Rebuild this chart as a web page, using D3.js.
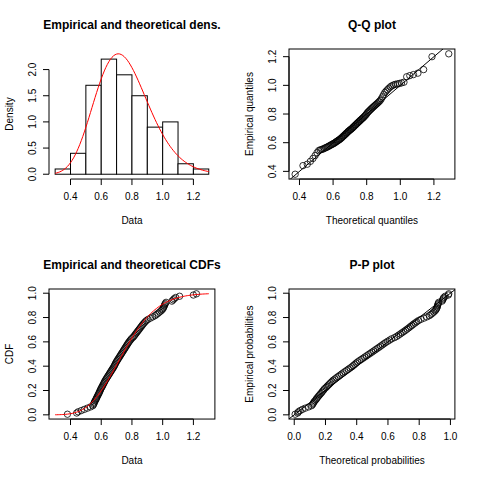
<!DOCTYPE html>
<html>
<head>
<meta charset="utf-8">
<script src="https://cdn.jsdelivr.net/npm/d3@7"></script>
<style>
html,body{margin:0;padding:0;background:#fff;}
svg{display:block;}
text{font-family:"Liberation Sans",Arial,Helvetica,sans-serif;fill:#000;}
</style>
</head>
<body>
<svg id="chart" width="480" height="480"></svg>
<script>
// ---------- data ----------
// sorted sample (n = 100)
const sample = [
  0.38,
  0.44, 0.45, 0.47, 0.49,
  0.51, 0.53, 0.545, 0.55, 0.553, 0.556, 0.56, 0.565, 0.568, 0.572, 0.576, 0.58, 0.584, 0.588, 0.591, 0.595, 0.598,
  0.603, 0.607, 0.611, 0.615, 0.619, 0.623, 0.627, 0.632, 0.637, 0.642, 0.647, 0.652, 0.657, 0.662, 0.667, 0.672, 0.677, 0.682, 0.686, 0.690, 0.694, 0.698,
  0.703, 0.708, 0.713, 0.718, 0.723, 0.728, 0.733, 0.738, 0.743, 0.748, 0.753, 0.758, 0.763, 0.768, 0.773, 0.778, 0.784, 0.790, 0.796,
  0.805, 0.812, 0.818, 0.824, 0.830, 0.836, 0.842, 0.848, 0.854, 0.860, 0.866, 0.872, 0.879, 0.886, 0.894,
  0.905, 0.92, 0.935, 0.95, 0.96, 0.97, 0.98, 0.99, 0.997,
  1.003, 1.007, 1.01, 1.013, 1.017, 1.022, 1.06, 1.068, 1.075, 1.085,
  1.11, 1.20,
  1.22
];
// histogram
const histBreaks = [0.3, 0.4, 0.5, 0.6, 0.7, 0.8, 0.9, 1.0, 1.1, 1.2, 1.3];
const histDensity = [0.1, 0.4, 1.7, 2.2, 1.9, 1.5, 0.9, 1.0, 0.2, 0.1];
// fitted gamma distribution
const gammaShape = 18.0;
const gammaRate = 23.9;
// tick labels
const ticksData = [0.4, 0.6, 0.8, 1.0, 1.2];
const ticksDensity = [0.0, 0.5, 1.0, 1.5, 2.0];
const ticksQuant = [0.4, 0.6, 0.8, 1.0, 1.2];
const ticksProb = [0.0, 0.2, 0.4, 0.6, 0.8, 1.0];
const titles = ["Empirical and theoretical dens.", "Q-Q plot", "Empirical and theoretical CDFs", "P-P plot"];
const xLabels = ["Data", "Theoretical quantiles", "Data", "Theoretical probabilities"];
const yLabels = ["Density", "Empirical quantiles", "CDF", "Empirical probabilities"];

// ---------- gamma distribution functions ----------
function lgamma(z){
  const g = 7, c = [0.99999999999980993, 676.5203681218851, -1259.1392167224028,
    771.32342877765313, -176.61502916214059, 12.507343278686905,
    -0.13857109526572012, 9.9843695780195716e-6, 1.5056327351493116e-7];
  z -= 1;
  let x = c[0];
  for (let i = 1; i < g + 2; i++) x += c[i] / (z + i);
  const t = z + g + 0.5;
  return 0.5*Math.log(2*Math.PI) + (z+0.5)*Math.log(t) - t + Math.log(x);
}
function dgamma(x){
  if (x <= 0) return 0;
  return Math.exp((gammaShape-1)*Math.log(x) - gammaRate*x + gammaShape*Math.log(gammaRate) - lgamma(gammaShape));
}
function pgamma(x){
  if (x <= 0) return 0;
  const a = gammaShape, y = gammaRate*x;
  const lnPre = -y + a*Math.log(y) - lgamma(a);
  if (y < a + 1){
    let ap = a, sum = 1/a, del = sum;
    for (let n = 0; n < 500; n++){ ap += 1; del *= y/ap; sum += del; if (Math.abs(del) < Math.abs(sum)*1e-14) break; }
    return sum*Math.exp(lnPre);
  } else {
    let b = y + 1 - a, c = 1e300, d = 1/b, h = d;
    for (let i = 1; i < 500; i++){
      const an = -i*(i - a); b += 2;
      d = an*d + b; if (Math.abs(d) < 1e-300) d = 1e-300;
      c = b + an/c; if (Math.abs(c) < 1e-300) c = 1e-300;
      d = 1/d; const del = d*c; h *= del;
      if (Math.abs(del - 1) < 1e-14) break;
    }
    return 1 - Math.exp(lnPre)*h;
  }
}
function qgamma(p){
  let lo = 0, hi = 5;
  for (let i = 0; i < 100; i++){ const m = (lo+hi)/2; if (pgamma(m) < p) lo = m; else hi = m; }
  return (lo+hi)/2;
}

// ---------- derived quantities ----------
const n = sample.length;
const ppts = sample.map((d,i) => (i + 1 - 0.5)/n);
const qtheo = ppts.map(p => qgamma(p));
const ptheo = sample.map(s => pgamma(s));
const curveX = d3.range(0, 101).map(i => 0.3 + i*0.01);

// ---------- layout (R-like) ----------
const svg = d3.select("#chart");
const L = 11.952;
const P = {left: 4.1*L, right: 240 - 2.1*L, top: 4.1*L, bottom: 240 - 5.1*L};
function ext(lo, hi){ const r = hi - lo; return [lo - 0.04*r, hi + 0.04*r]; }
const fmt = d3.format(".1f");

function panel(ox, oy, xdom, ydom, xt, yt, idx, boxed){
  const g = svg.append("g").attr("transform", `translate(${ox},${oy})`);
  const x = d3.scaleLinear().domain(xdom).range([P.left, P.right]);
  const y = d3.scaleLinear().domain(ydom).range([P.bottom, P.top]);
  // title
  g.append("text").attr("x", (P.left+P.right)/2).attr("y", 28.5)
    .attr("text-anchor","middle").attr("font-size","12px").attr("font-weight","bold")
    .text(titles[idx]);
  // x axis
  g.append("line").attr("x1", x(xt[0])).attr("x2", x(xt[xt.length-1]))
    .attr("y1", P.bottom).attr("y2", P.bottom).attr("stroke","#000").attr("stroke-width",1);
  xt.forEach(t => {
    g.append("line").attr("x1", x(t)).attr("x2", x(t)).attr("y1", P.bottom).attr("y2", P.bottom+6)
      .attr("stroke","#000").attr("stroke-width",1);
    g.append("text").attr("x", x(t)).attr("y", P.bottom+21).attr("text-anchor","middle")
      .attr("font-size","10px").text(fmt(t));
  });
  g.append("text").attr("x", (P.left+P.right)/2).attr("y", P.bottom+45).attr("text-anchor","middle")
    .attr("font-size","10px").text(xLabels[idx]);
  // y axis
  g.append("line").attr("x1", P.left).attr("x2", P.left)
    .attr("y1", y(yt[0])).attr("y2", y(yt[yt.length-1])).attr("stroke","#000").attr("stroke-width",1);
  yt.forEach(t => {
    g.append("line").attr("x1", P.left-6).attr("x2", P.left).attr("y1", y(t)).attr("y2", y(t))
      .attr("stroke","#000").attr("stroke-width",1);
    g.append("text").attr("transform", `translate(${P.left-13},${y(t)}) rotate(-90)`)
      .attr("text-anchor","middle").attr("font-size","10px").text(fmt(t));
  });
  g.append("text").attr("transform", `translate(${P.left-36},${(P.top+P.bottom)/2}) rotate(-90)`)
    .attr("text-anchor","middle").attr("font-size","10px").text(yLabels[idx]);
  if (boxed){
    g.append("rect").attr("x", P.left).attr("y", P.top).attr("width", P.right-P.left)
      .attr("height", P.bottom-P.top).attr("fill","none").attr("stroke","#000").attr("stroke-width",1);
  }
  const clipId = "clip" + idx;
  g.append("clipPath").attr("id", clipId).append("rect")
    .attr("x", P.left).attr("y", P.top).attr("width", P.right-P.left).attr("height", P.bottom-P.top);
  const plot = g.append("g").attr("clip-path", `url(#${clipId})`);
  return {g, plot, x, y};
}

// Panel 1: density histogram
{
  const dmax = Math.max(d3.max(histDensity), d3.max(curveX, dgamma));
  const p = panel(0, 0, ext(0.3, 1.3), ext(0, dmax), ticksData, ticksDensity, 0, false);
  p.g.selectAll("rect.bar").data(histDensity).enter().append("rect").attr("class","bar")
    .attr("x", (d,i) => p.x(histBreaks[i]))
    .attr("width", (d,i) => p.x(histBreaks[i+1]) - p.x(histBreaks[i]))
    .attr("y", d => p.y(d)).attr("height", d => p.y(0) - p.y(d))
    .attr("fill","#fff").attr("stroke","#000").attr("stroke-width",1);
  p.g.append("path").datum(curveX)
    .attr("d", d3.line().x(d => p.x(d)).y(d => p.y(dgamma(d))))
    .attr("fill","none").attr("stroke","#ff0000").attr("stroke-width",1);
}

// Panel 2: Q-Q plot
{
  const p = panel(240, 0, ext(d3.min(qtheo), d3.max(qtheo)), ext(d3.min(sample), d3.max(sample)),
                  ticksQuant, ticksQuant, 1, true);
  const xd = p.x.domain();
  p.plot.append("line").attr("x1", p.x(xd[0]-1)).attr("y1", p.y(xd[0]-1))
    .attr("x2", p.x(xd[1]+1)).attr("y2", p.y(xd[1]+1)).attr("stroke","#000").attr("stroke-width",1);
  p.g.selectAll("circle").data(sample).enter().append("circle")
    .attr("cx", (d,i) => p.x(qtheo[i])).attr("cy", d => p.y(d)).attr("r", 3.2)
    .attr("fill","none").attr("stroke","#000").attr("stroke-width",0.8);
}

// Panel 3: CDFs
{
  const p = panel(0, 240, ext(0.3, 1.3), ext(d3.min(ppts), d3.max(ppts)), ticksData, ticksProb, 2, true);
  p.g.selectAll("circle").data(sample).enter().append("circle")
    .attr("cx", d => p.x(d)).attr("cy", (d,i) => p.y(ppts[i])).attr("r", 3.2)
    .attr("fill","none").attr("stroke","#000").attr("stroke-width",0.8);
  p.g.append("path").datum(curveX)
    .attr("d", d3.line().x(d => p.x(d)).y(d => p.y(pgamma(d))))
    .attr("fill","none").attr("stroke","#ff0000").attr("stroke-width",1);
}

// Panel 4: P-P plot
{
  const p = panel(240, 240, ext(d3.min(ptheo), d3.max(ptheo)), ext(d3.min(ppts), d3.max(ppts)),
                  ticksProb, ticksProb, 3, true);
  p.plot.append("line").attr("x1", p.x(-1)).attr("y1", p.y(-1))
    .attr("x2", p.x(2)).attr("y2", p.y(2)).attr("stroke","#000").attr("stroke-width",1);
  p.g.selectAll("circle").data(sample).enter().append("circle")
    .attr("cx", (d,i) => p.x(ptheo[i])).attr("cy", (d,i) => p.y(ppts[i])).attr("r", 3.2)
    .attr("fill","none").attr("stroke","#000").attr("stroke-width",0.8);
}
</script>
</body>
</html>
